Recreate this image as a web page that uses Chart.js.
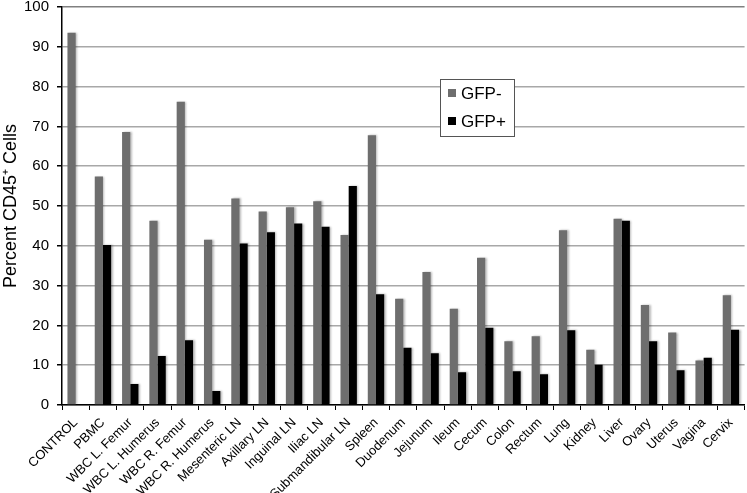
<!DOCTYPE html>
<html>
<head>
<meta charset="utf-8">
<script src="https://cdn.jsdelivr.net/npm/chart.js@4/dist/chart.umd.min.js"></script>
<style>
html,body{margin:0;padding:0;background:#fff;}
#wrap{width:747px;height:493px;}
</style>
</head>
<body>
<div id="wrap"><canvas id="c" width="747" height="493"></canvas></div>
<script>
const categories = ["CONTROL","PBMC","WBC L. Femur","WBC L. Humerus","WBC R. Femur","WBC R. Humerus","Mesenteric LN","Axillary LN","Inguinal LN","Iliac LN","Submandibular LN","Spleen","Duodenum","Jejunum","Ileum","Cecum","Colon","Rectum","Lung","Kidney","Liver","Ovary","Uterus","Vagina","Cervix"];
const gfpNeg = [93.5,57.4,68.6,46.3,76.2,41.5,51.9,48.6,49.7,51.2,42.7,67.8,26.7,33.4,24.2,37.0,16.0,17.3,43.9,13.9,46.8,25.1,18.2,11.2,27.6];
const gfpPos = [0,40.2,5.3,12.3,16.3,3.5,40.6,43.4,45.6,44.8,55.0,27.8,14.4,13.0,8.2,19.4,8.5,7.7,18.8,10.1,46.3,16.0,8.7,11.9,18.9];
const seriesLabels = ["GFP-","GFP+"];
const yTicks = [0,10,20,30,40,50,60,70,80,90,100];
const yTitle = "Percent CD45\u207A Cells";

const FONT = "'Liberation Sans', Arial, sans-serif";

const barShadow = {
  id: 'barShadow',
  beforeDatasetsDraw(chart) {
    const ctx = chart.ctx;
    ctx.save();
    ctx.shadowColor = 'rgba(0,0,0,0.28)';
    ctx.shadowBlur = 2;
    ctx.shadowOffsetX = 1.5;
    ctx.shadowOffsetY = 0;
  },
  afterDatasetsDraw(chart) {
    chart.ctx.restore();
  }
};

const boxLegend = {
  id: 'boxLegend',
  afterDraw(chart) {
    const ctx = chart.ctx;
    const x = 440, y = 79, w = 74, h = 57;
    ctx.save();
    ctx.fillStyle = '#fff';
    ctx.fillRect(x, y, w, h);
    ctx.strokeStyle = '#555';
    ctx.lineWidth = 1;
    ctx.strokeRect(x + 0.5, y + 0.5, w, h);
    ctx.font = "17px " + FONT;
    ctx.textBaseline = 'middle';
    chart.data.datasets.forEach((ds, i) => {
      const cy = y + 14 + i * 28;
      ctx.fillStyle = ds.backgroundColor;
      ctx.fillRect(x + 8, cy - 4, 8, 8);
      ctx.fillStyle = '#000';
      ctx.fillText(ds.label, x + 21, cy + 1);
    });
    ctx.restore();
  }
};

new Chart(document.getElementById('c'), {
  type: 'bar',
  data: {
    labels: categories,
    datasets: [
      { label: seriesLabels[0], data: gfpNeg, backgroundColor: '#6e6e6e', borderWidth: 0 },
      { label: seriesLabels[1], data: gfpPos, backgroundColor: '#000000', borderWidth: 0 }
    ]
  },
  options: {
    responsive: false,
    animation: false,
    devicePixelRatio: 1,
    layout: { padding: { top: 0, right: 2, left: 0, bottom: 0 } },
    plugins: { legend: { display: false }, tooltip: { enabled: false } },
    datasets: { bar: { categoryPercentage: 0.6, barPercentage: 1.0 } },
    scales: {
      x: {
        grid: { display: true, drawOnChartArea: false, drawTicks: true, tickLength: 5, tickColor: '#000', offset: true },
        border: { color: '#000', width: 1.5 },
        ticks: { color: '#000', font: { family: FONT, size: 13 }, minRotation: 45, maxRotation: 45, autoSkip: false, padding: 5 },
        afterFit(scale) { scale.height = 88; }
      },
      y: {
        min: 0, max: 100,
        afterBuildTicks(scale) { scale.ticks = yTicks.map(v => ({ value: v })); },
        grid: { color: (c) => c.tick && c.tick.value === 100 ? '#808080' : '#a8a8a8', lineWidth: 1.5, tickLength: 5, tickColor: '#000' },
        border: { color: '#000', width: 1.5 },
        ticks: { color: '#000', font: { family: FONT, size: 15, lineHeight: 1 }, padding: 8 },
        title: { display: true, text: yTitle, color: '#000', font: { family: FONT, size: 18 }, padding: { top: 0, bottom: 0 } },
        afterFit(scale) { scale.width = 62; scale.paddingTop = 7; scale.paddingBottom = 7; }
      }
    }
  },
  plugins: [barShadow, boxLegend]
});
</script>
</body>
</html>
